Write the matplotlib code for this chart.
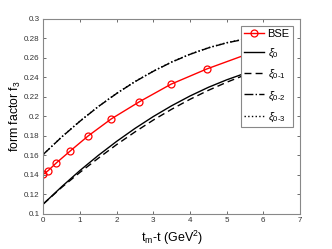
import numpy as np
import matplotlib
matplotlib.use("Agg")
import matplotlib.pyplot as plt

params = {
    "font.family": ["Liberation Sans", "DejaVu Sans"],
    "mathtext.fontset": "custom",
    "mathtext.rm": "Liberation Sans",
    "mathtext.it": "Liberation Sans:italic",
    "font.size": 7,
    "xtick.labelsize": 5.8,
    "ytick.labelsize": 5.8,
}
plt.rcParams.update(params)

# BSE points
bse_x = [0, 0.13, 0.35, 0.72, 1.22, 1.85, 2.62, 3.48, 4.46, 5.5]
bse_y = [0.1405, 0.1442, 0.152, 0.164, 0.1798, 0.1973, 0.215, 0.233, 0.2487, 0.263]

# fitted curves
xi_x = [0, 0.5, 1, 1.5, 2, 2.5, 3, 3.5, 4, 4.5, 5, 5.5, 6]
xi0 = [0.110, 0.1277, 0.1444, 0.1599, 0.1743, 0.1876, 0.1998, 0.2109, 0.2209, 0.2298, 0.2375, 0.2442, 0.2497]
xi01 = [0.110, 0.1270, 0.1425, 0.1570, 0.1710, 0.1840, 0.1962, 0.2073, 0.2175, 0.2267, 0.2350, 0.2425, 0.2490]
xi02 = [0.161, 0.1787, 0.1950, 0.2100, 0.2235, 0.2356, 0.2463, 0.2557, 0.2637, 0.2703, 0.2755, 0.2793, 0.2818]
xi03 = [0.161, 0.1789, 0.1952, 0.2102, 0.2237, 0.2358, 0.2465, 0.2559, 0.2639, 0.2705, 0.2757, 0.2795, 0.2820]

xticks = [0, 1, 2, 3, 4, 5, 6, 7]
yticks = [0.1, 0.12, 0.14, 0.16, 0.18, 0.2, 0.22, 0.24, 0.26, 0.28, 0.3]
yticklabels = ["0.1", "0.12", "0.14", "0.16", "0.18", "0.2", "0.22", "0.24", "0.26", "0.28", "0.3"]

fig = plt.figure(figsize=(3.32, 2.49), dpi=100)
ax = fig.add_axes([0.1305, 0.1418, 0.7731, 0.7819])

ax.plot(bse_x, bse_y, color="red", lw=1, marker="o", ms=5, mfc="none", mew=0.9, label="BSE")
ax.plot(xi_x, xi0, color="black", lw=1, ls="-", label=r"$\xi_0$")
ax.plot(xi_x, xi01, color="black", lw=1, ls=(0, (5, 3)), label=r"$\xi_{0\text{-}1}$")
ax.plot(xi_x, xi02, color="black", lw=1, ls="-.", label=r"$\xi_{0\text{-}2}$")
ax.plot(xi_x, xi03, color="black", lw=1, ls=":", label=r"$\xi_{0\text{-}3}$")

ax.set_xlim(0, 7)
ax.set_ylim(0.1, 0.3)
ax.set_xticks(xticks)
ax.set_yticks(yticks)
ax.set_yticklabels(yticklabels)
ax.tick_params(direction="in", top=True, right=True, length=2.5, width=0.6,
               color="#555555", labelcolor="#333333", pad=2.5)
for s in ax.spines.values():
    s.set_color("#888888")
    s.set_linewidth(0.8)

ax.set_xlabel(r"t$_\mathrm{m}$-t (GeV$^2$)", fontsize=9, labelpad=3)
ax.set_ylabel(r"form factor f$_3$", fontsize=8.8, labelpad=1)

leg = ax.legend(loc="upper right", bbox_to_anchor=(0.9727, 0.964), borderaxespad=0,
                fontsize=8, fancybox=False, edgecolor="#888888", framealpha=1,
                handlelength=1.8, handletextpad=0.3, labelspacing=0.7, borderpad=0.3)
leg.get_frame().set_linewidth(0.8)

plt.savefig("out.png", dpi=100)
